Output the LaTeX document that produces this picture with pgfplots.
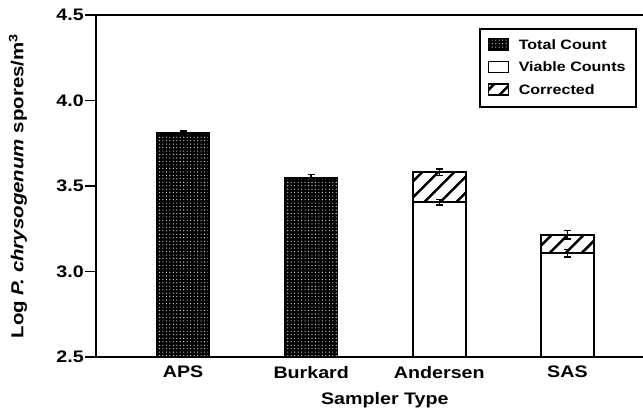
\documentclass[border=0pt]{standalone}
\usepackage{pgfplots}
\pgfplotsset{compat=1.18}
\usepackage{fontspec}
\setmainfont{Liberation Sans}[FakeStretch=1.18]
\usetikzlibrary{patterns.meta}

\tikzset{
  totalfill/.style={fill=black, postaction={pattern={Dots[distance=2.6pt,radius=0.42pt]}, pattern color=white}},
  corrfill/.style={pattern={Lines[angle=45,distance=8.5pt,line width=1.9pt]}, pattern color=black},
}

\begin{document}
\begin{tikzpicture}
\begin{axis}[
  scale only axis, width=410.25pt, height=256.5pt,
  ymin=2.5, ymax=4.5, xmin=-0.68, xmax=3.59,
  axis x line=box, axis y line=left,
  axis line style={-, line width=1.6pt},
  ytick={2.5,3.0,3.5,4.0,4.5},
  /pgf/number format/fixed, /pgf/number format/fixed zerofill, /pgf/number format/precision=1,
  /pgf/number format/assume math mode=true,
  tick label style={font=\fontsize{12.5}{14}\selectfont\bfseries},
  ytick pos=left, tick align=outside, major tick length=8pt,
  ytick style={line width=1.4pt, black},
  xtick={0,1,2,3}, xticklabels={APS,Burkard,Andersen,SAS},
  xtick style={draw=none},
  xticklabel style={inner sep=0pt, yshift=1.5pt},
  yticklabel style={inner sep=0pt, xshift=-1pt},
  ylabel={Log \textit{P. chrysogenum} spores/m\textsuperscript{3}},
  ylabel style={at={(axis description cs:-0.1426,0.5)}, anchor=center, font=\fontsize{13}{15}\selectfont\bfseries},
  xlabel={Sampler Type},
  xlabel style={at={(axis description cs:0.528,-0.1023)}, anchor=north, inner sep=0pt, font=\fontsize{12.5}{14}\selectfont\bfseries},
  every axis plot/.append style={ybar, bar width=0.41, bar shift=0pt, draw=black, line width=1.4pt,
    error bars/error bar style={line width=1.1pt, black},
    error bars/error mark options={line width=1.1pt, black, rotate=90, mark size=2.6pt}},
  legend style={at={(1,1)}, anchor=north east, xshift=-4.5pt, yshift=-9.75pt,
    draw=black, line width=1.2pt, font=\fontsize{10.2}{12}\selectfont\bfseries,
    row sep=4pt, inner xsep=6pt, inner ysep=6pt, cells={anchor=west}},
  legend image code/.code={\draw[#1, line width=1.1pt] (0pt,-3.5pt) rectangle (15pt,5pt); \path (20pt,0pt);},
]
\coordinate (bl) at (rel axis cs:0,0);
\coordinate (tr) at (rel axis cs:1,1);

\addlegendimage{totalfill}
\addlegendentry{Total Count}
\addlegendimage{fill=white}
\addlegendentry{Viable Counts}
\addlegendimage{corrfill}
\addlegendentry{Corrected}

% Total count
\addplot[totalfill, forget plot, error bars/.cd, y dir=both, y explicit]
  coordinates {(0,3.81) +- (0,0.012) (1,3.547) +- (0,0.02)};
% Corrected (top of stacked bars)
\addplot[corrfill, forget plot, error bars/.cd, y dir=both, y explicit]
  coordinates {(2,3.58) +- (0,0.02) (3,3.215) +- (0,0.025)};
% Viable counts
\addplot[fill=white, forget plot, error bars/.cd, y dir=both, y explicit]
  coordinates {(2,3.405) +- (0,0.015) (3,3.108) +- (0,0.022)};
\end{axis}
\pgfresetboundingbox
\path ([shift={(-72pt,-45.75pt)}]bl) rectangle ([shift={(0pt,11.25pt)}]tr);
\end{tikzpicture}
\end{document}
